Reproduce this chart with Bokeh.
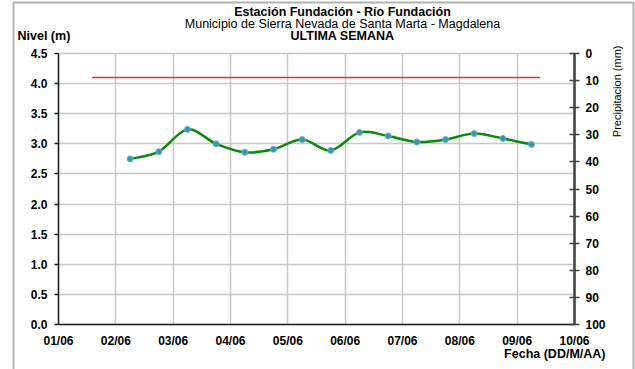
import numpy as np
import pandas as pd
from bokeh.plotting import figure
from bokeh.models import (Range1d, LinearAxis, FixedTicker, Label, BoxAnnotation, Grid,
                          PrintfTickFormatter)
from bokeh.embed import file_html
from bokeh.resources import INLINE

# ---- data ----
fechas = ["2024-06-02 06:00", "2024-06-02 18:00", "2024-06-03 06:00", "2024-06-03 18:00",
          "2024-06-04 06:00", "2024-06-04 18:00", "2024-06-05 06:00", "2024-06-05 18:00",
          "2024-06-06 06:00", "2024-06-06 18:00", "2024-06-07 06:00", "2024-06-07 18:00",
          "2024-06-08 06:00", "2024-06-08 18:00", "2024-06-09 06:00"]
nivel = [2.75, 2.87, 3.24, 3.00, 2.86, 2.91, 3.07, 2.89, 3.19, 3.13, 3.03, 3.07, 3.17, 3.09, 2.99]
umbral_fechas = ["2024-06-01 14:00", "2024-06-09 09:36"]
umbral = [4.1, 4.1]
dias = [1, 2, 3, 4, 5, 6, 7, 8, 9, 10]
tick_labels = ["01/06", "02/06", "03/06", "04/06", "05/06", "06/06", "07/06", "08/06", "09/06", "10/06"]
nivel_ticks = [0.0, 0.5, 1.0, 1.5, 2.0, 2.5, 3.0, 3.5, 4.0, 4.5]
precip_ticks = [0, 10, 20, 30, 40, 50, 60, 70, 80, 90, 100]

def to_days(strs):
    t = pd.to_datetime(strs)
    return np.array(t.day + t.hour / 24 + t.minute / 1440, dtype=float)

x = to_days(fechas)
y = np.array(nivel)
ux = to_days(umbral_fechas)

# ---- layout (pixels) ----
W, H = 635, 369
FL, FR, FT, FB = 58, 574, 53, 324          # plot area edges
xmin, xmax = dias[0], dias[-1]
ymin, ymax = nivel_ticks[0], nivel_ticks[-1]
pmin, pmax = precip_ticks[0], precip_ticks[-1]
ppd = (FR - FL) / (xmax - xmin)
ppu = (FB - FT) / (ymax - ymin)
ppp = (FB - FT) / (pmax - pmin)

p = figure(width=W, height=H, output_backend="svg", toolbar_location=None,
           x_axis_location=None, y_axis_location=None,
           x_range=Range1d(xmin - FL / ppd, xmax + (W - FR) / ppd),
           y_range=Range1d(ymin - (H - FB) / ppu, ymax + FT / ppu),
           min_border=0, min_border_left=0, min_border_right=0,
           min_border_top=0, min_border_bottom=0)
p.extra_y_ranges = {"precip": Range1d(pmax + (H - FB) / ppp, pmin - FT / ppp)}
p.outline_line_color = None
p.background_fill_color = "white"
p.border_fill_color = "white"
p.center = [r for r in p.center if not isinstance(r, Grid)]

font = "Liberation Sans"
GRID = "#c8c8c8"

# ---- grid ----
vg = Grid(dimension=0, ticker=FixedTicker(ticks=dias), grid_line_color=GRID, grid_line_width=1.5)
hg = Grid(dimension=1, ticker=FixedTicker(ticks=nivel_ticks), grid_line_color=GRID, grid_line_width=1.5)
try:
    vg.cross_bounds = (ymin, ymax)
    hg.cross_bounds = (xmin, xmax)
    p.add_layout(vg)
    p.add_layout(hg)
except AttributeError:
    p.segment(x0=dias, y0=[ymin] * len(dias), x1=dias, y1=[ymax] * len(dias),
              line_color=GRID, line_width=1.5)
    p.segment(x0=[xmin] * len(nivel_ticks), y0=nivel_ticks, x1=[xmax] * len(nivel_ticks),
              y1=nivel_ticks, line_color=GRID, line_width=1.5)

# ---- axes ----
def style(ax, color, width, tin, tout, standoff):
    ax.axis_line_color = color
    ax.axis_line_width = width
    ax.major_tick_line_color = color
    ax.major_tick_line_width = 1.5
    ax.major_tick_in = tin
    ax.major_tick_out = tout
    ax.minor_tick_line_color = None
    ax.major_label_text_font = font
    ax.major_label_text_font_style = "bold"
    ax.major_label_text_font_size = "12px"
    ax.major_label_text_color = "black"
    ax.major_label_standoff = standoff

xa = LinearAxis(fixed_location=ymin, bounds=(xmin, xmax), ticker=FixedTicker(ticks=dias))
xa.major_label_overrides = {d: lab for d, lab in zip(dias, tick_labels)}
style(xa, "#202020", 1.5, 0, 0, 9)
p.add_layout(xa, "below")

ya = LinearAxis(fixed_location=xmin, bounds=(ymin, ymax), ticker=FixedTicker(ticks=nivel_ticks),
                formatter=PrintfTickFormatter(format="%.1f"))
style(ya, "#202020", 1.5, 0, 4, 7)
p.add_layout(ya, "left")

ra = LinearAxis(y_range_name="precip", fixed_location=xmax, bounds=(pmin, pmax),
                ticker=FixedTicker(ticks=precip_ticks))
style(ra, "#404040", 2.5, 5, 5, 6)
p.add_layout(ra, "right")

# ---- data marks ----
p.line(ux, umbral, line_color="#e0343c", line_width=1.5)

n = len(x)
xp = np.concatenate([[x[0]], x, [x[-1]]])
yp = np.concatenate([[y[0]], y, [y[-1]]])
cx0 = x[:-1] + (xp[2:n + 1] - xp[0:n - 1]) / 6
cy0 = y[:-1] + (yp[2:n + 1] - yp[0:n - 1]) / 6
cx1 = x[1:] - (xp[3:n + 2] - xp[1:n]) / 6
cy1 = y[1:] - (yp[3:n + 2] - yp[1:n]) / 6
p.bezier(x0=x[:-1], y0=y[:-1], x1=x[1:], y1=y[1:], cx0=cx0, cy0=cy0, cx1=cx1, cy1=cy1,
         line_color="#0a8a0a", line_width=2.5)
p.scatter(x, y, size=6, fill_color="#3a9a9a", line_color="#6aa8e0", line_width=1)

# ---- texts ----
def lab(px, py, text, bold=False, size="12.5px", align="center", angle=0.0):
    p.add_layout(Label(x=px, y=py, x_units="canvas", y_units="canvas", text=text,
                       text_font=font, text_font_style="bold" if bold else "normal",
                       text_font_size=size, text_align=align, text_baseline="middle",
                       angle=angle, text_color="black"))

lab(342, 11, "Estación Fundación - Río Fundación", bold=True)
lab(342, 23, "Municipio de Sierra Nevada de Santa Marta - Magdalena")
lab(342, 35, "ULTIMA SEMANA", bold=True)
lab(17, 35, "Nivel (m)", bold=True, align="left")
lab(616, 45, "Precipitacion (mm)", size="11px", align="right", angle=np.pi / 2)
lab(605, 353, "Fecha (DD/M/AA)", bold=True, align="right")

# ---- outer frame ----
p.add_layout(BoxAnnotation(left=13, right=633, top=2, bottom=H + 10,
                           left_units="canvas", right_units="canvas",
                           top_units="canvas", bottom_units="canvas",
                           fill_color=None, line_color="black", line_width=2))

open("out.html", "w").write(file_html(p, INLINE))
